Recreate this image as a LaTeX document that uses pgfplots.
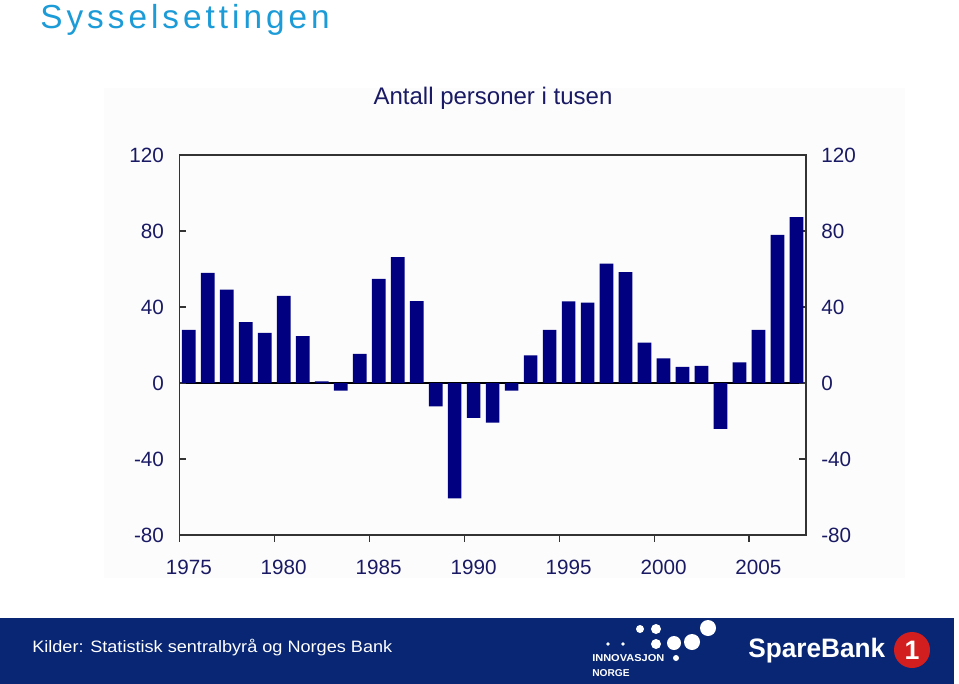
\documentclass[border=0pt]{standalone}
\usepackage{pgfplots}
\pgfplotsset{compat=1.18}
\usepackage{fontspec}
\setmainfont{Liberation Sans}
\usepackage{graphicx}
\definecolor{barnavy}{RGB}{0,0,128}
\definecolor{lblnavy}{RGB}{26,26,100}
\definecolor{titlecyan}{RGB}{27,155,215}
\definecolor{footnavy}{RGB}{8,38,115}
\definecolor{sbred}{RGB}{210,30,30}
\begin{document}
\begin{tikzpicture}
\begin{scope}[x=0.75pt,y=-0.75pt]
% page frame
\fill[white] (0,0) rectangle (959,684);
\fill[black!1] (104,88) rectangle (905,578);
% title
\node[anchor=west,inner sep=0pt,text=titlecyan] at (40,20)
  {\fontsize{25}{25}\selectfont\addfontfeature{LetterSpace=12}Sysselsettingen};
% subtitle
\node[anchor=center,inner sep=0pt,text=lblnavy] at (493,98.5)
  {\fontsize{18}{18}\selectfont Antall personer i tusen};
\end{scope}

\begin{axis}[
  at={({179.3*0.75pt},{-155*0.75pt})}, anchor=north west,
  scale only axis, width=470pt, height=285pt,
  xmin=1975, xmax=2008, ymin=-80, ymax=120,
  ytick={-80,-40,...,120},
  ytick pos=both,
  xtick pos=bottom,
  xtick={1975,1980,1985,1990,1995,2000,2005},
  extra y ticks={0},
  extra y tick labels={},
  extra y tick style={grid=major, major grid style={black, line width=0.9pt}},
  major tick length=5pt,
  tick style={black!80, line width=0.8pt},
  axis line style={black!80, line width=0.8pt},
  tick label style={text=lblnavy, font=\fontsize{15.5}{15.5}\selectfont},
  /pgf/number format/assume math mode=true,
  /pgf/number format/set thousands separator={},
  yticklabel style={xshift=-8pt},
  xticklabel style={yshift=-10pt, xshift=7.1pt},
  ybar, bar width=0.72, bar shift=0pt,
  clip=false,
]
\addplot[fill=barnavy, draw=none] coordinates {
 (1975.5,28.0) (1976.5,57.9) (1977.5,49.2) (1978.5,32.0) (1979.5,26.4)
 (1980.5,45.9) (1981.5,24.7) (1982.5,0.9) (1983.5,-4.0) (1984.5,15.3)
 (1985.5,54.8) (1986.5,66.3) (1987.5,43.1) (1988.5,-12.3) (1989.5,-60.7)
 (1990.5,-18.4) (1991.5,-20.9) (1992.5,-4.0) (1993.5,14.6) (1994.5,28.0)
 (1995.5,43.0) (1996.5,42.3) (1997.5,62.8) (1998.5,58.4) (1999.5,21.2)
 (2000.5,12.9) (2001.5,8.5) (2002.5,9.0) (2003.5,-24.2) (2004.5,10.8)
 (2005.5,28.0) (2006.5,77.9) (2007.5,87.3)
};
\end{axis}

\begin{axis}[
  at={({179.3*0.75pt},{-155*0.75pt})}, anchor=north west,
  scale only axis, width=470pt, height=285pt,
  xmin=1975, xmax=2008, ymin=-80, ymax=120,
  ytick={-80,-40,...,120},
  xtick=\empty,
  ytick pos=right, yticklabel pos=right,
  major tick length=0pt,
  axis line style={draw=none},
  tick label style={text=lblnavy, font=\fontsize{15.5}{15.5}\selectfont},
  /pgf/number format/assume math mode=true,
  yticklabel style={xshift=8pt},
]
\end{axis}

\begin{scope}[x=0.75pt,y=-0.75pt]
% footer
\fill[footnavy] (0,618) rectangle (954,684);
\node[anchor=west,inner sep=0pt,text=white] at (32,648)
  {\resizebox{270pt}{\height}{\fontsize{12.4}{14}\selectfont Kilder: Statistisk sentralbyrå og Norges Bank}};
% Innovasjon Norge logo
\foreach \px/\py/\r in {640/629/4, 656/629/5, 708/628/8, 608/644/1.8, 623/644/1.8, 656/644/5, 674/643/7, 692/642/8, 676/658/3}{
  \node[circle, fill=white, inner sep=0pt, minimum size=2*\r*0.75pt] at (\px,\py) {};
}
\node[anchor=west,inner sep=0pt,text=white] at (592,658)
  {\resizebox{54pt}{\height}{\fontsize{7.5}{8}\selectfont\bfseries INNOVASJON}};
\node[anchor=west,inner sep=0pt,text=white] at (592,673)
  {\resizebox{28pt}{\height}{\fontsize{7.5}{8}\selectfont\bfseries NORGE}};
% SpareBank 1 logo
\node[anchor=west,inner sep=0pt,text=white] at (748,651)
  {\resizebox{102.75pt}{\height}{\fontsize{20}{20}\selectfont\bfseries SpareBank}};
\node[circle, fill=sbred, inner sep=0pt, minimum size=27pt, text=white] at (912,650)
  {\fontsize{20}{20}\selectfont\bfseries 1};
\end{scope}
\end{tikzpicture}
\end{document}
